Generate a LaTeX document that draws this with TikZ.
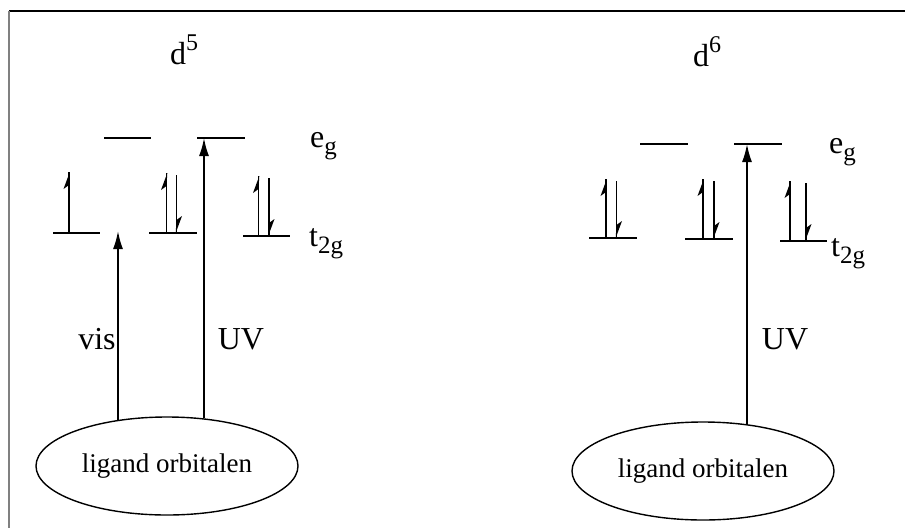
\documentclass[tikz,border=0pt]{standalone}
\usepackage{fontspec}
\setmainfont{Liberation Serif}
\usetikzlibrary{arrows.meta,shapes.geometric}
\newcommand\elecup[3]{\draw[level] (#1,#2) -- (#1,#3); \fill (#1+0.8,#3) -- (#1-5.5,#3+17) -- (#1,#3+13) -- cycle;}
\newcommand\elecdown[3]{\draw[level] (#1,#2) -- (#1,#3); \fill (#1-0.8,#3) -- (#1+5.5,#3-17) -- (#1,#3-13) -- cycle;}
\newcommand\supx[1]{\raisebox{0.45em}{\fontsize{24}{26}\selectfont #1}}
\newcommand\subx[1]{\raisebox{-0.22em}{\fontsize{25}{27}\selectfont #1}}
\begin{document}
\begin{tikzpicture}[x=1pt,y=-1pt,
  level/.style={line width=1.8pt},
  lbl/.style={font=\fontsize{32}{36}\selectfont, inner sep=0pt},
  orb/.style={ellipse, draw, line width=1.4pt, minimum width=262pt, minimum height=98pt, inner sep=0pt, font=\fontsize{27}{30}\selectfont},
  trans/.style={line width=1.8pt, -{Latex[length=18pt,width=10pt]}}]
\useasboundingbox (0,0) rectangle (905,528);
\fill[white] (0,0) rectangle (905,528);
% frame
\draw[line width=1.2pt] (9,11) -- (905,11);
\draw[line width=2pt, gray] (9,11) -- (9,528);
% ---------- left: d5 ----------
\node[lbl] (d5) at (184,50) {d\supx{5}};
\node[lbl, anchor=west] (eg1) at (310,146) {e\subx{g}};
\node[lbl, anchor=west] (t2g1) at (309,244) {t\subx{2g}};
\coordinate (le1a) at (104,138); \coordinate (le1b) at (151,138);
\coordinate (le2a) at (197,138); \coordinate (le2b) at (245,138);
\draw[level] (le1a) -- (le1b);
\draw[level] (le2a) -- (le2b);
\coordinate (lt1a) at (53,233); \coordinate (lt1b) at (100,233);
\coordinate (lt2a) at (149,233); \coordinate (lt2b) at (197,233);
\coordinate (lt3a) at (243,236); \coordinate (lt3b) at (290,236);
\draw[level] (lt1a) -- (lt1b);
\draw[level] (lt2a) -- (lt2b);
\draw[level] (lt3a) -- (lt3b);
\elecup{69}{233}{172}
\elecup{166.5}{233}{173}
\elecdown{176.5}{175}{233}
\elecup{258.5}{236}{176}
\elecdown{269}{178}{236}
\node[orb] (ligL) at (167,466) {ligand orbitalen};
\coordinate (visS) at (118,421);
\coordinate (visE) at (118,231);
\coordinate (uvLS) at (204,418);
\coordinate (uvLE) at (204,138);
\draw[trans] (visS) -- (visE);
\draw[trans] (uvLS) -- (uvLE);
\node[lbl] (vis) at (97,339) {vis};
\node[lbl] (uvL) at (241,339) {UV};
% ---------- right: d6 ----------
\node[lbl] (d6) at (707,52) {d\supx{6}};
\node[lbl, anchor=west] (eg2) at (829,152) {e\subx{g}};
\node[lbl, anchor=west] (t2g2) at (831,254) {t\subx{2g}};
\coordinate (re1a) at (640,144); \coordinate (re1b) at (688,144);
\coordinate (re2a) at (734,144); \coordinate (re2b) at (782,144);
\draw[level] (re1a) -- (re1b);
\draw[level] (re2a) -- (re2b);
\coordinate (rt1a) at (589,238); \coordinate (rt1b) at (637,238);
\coordinate (rt2a) at (685,239); \coordinate (rt2b) at (733,239);
\coordinate (rt3a) at (780,241); \coordinate (rt3b) at (827,241);
\draw[level] (rt1a) -- (rt1b);
\draw[level] (rt2a) -- (rt2b);
\draw[level] (rt3a) -- (rt3b);
\elecup{606}{238}{179}
\elecdown{616.5}{181}{238}
\elecup{703}{239}{179}
\elecdown{714}{181}{239}
\elecup{790}{241}{181}
\elecdown{806}{183}{241}
\node[orb] (ligR) at (703,471) {ligand orbitalen};
\coordinate (uvRS) at (747,424);
\coordinate (uvRE) at (747,144);
\draw[trans] (uvRS) -- (uvRE);
\node[lbl] (uvR) at (785,339) {UV};
\end{tikzpicture}
\end{document}
